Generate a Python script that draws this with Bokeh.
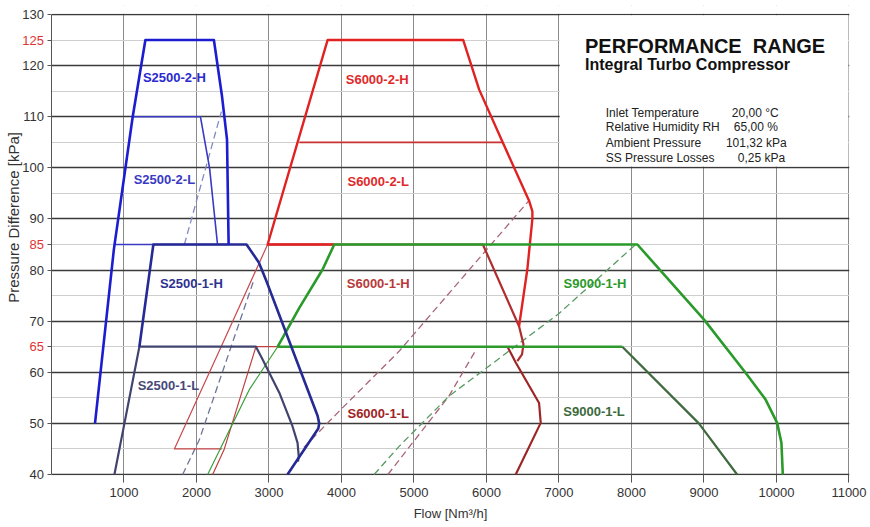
from bokeh.plotting import figure
from bokeh.layouts import row
from bokeh.models import FixedTicker, Label, Range1d
from bokeh.embed import file_html
from bokeh.resources import INLINE
from bokeh.core.properties import value
import math

# ---------------- data ----------------
flow_ticks = [1000, 2000, 3000, 4000, 5000, 6000, 7000, 8000, 9000, 10000, 11000]
flow_grid = [0, 1000, 2000, 3000, 4000, 5000, 6000, 7000, 8000, 9000, 10000, 11000]
dp_ticks = [40, 50, 60, 65, 70, 80, 85, 90, 100, 110, 120, 125, 130]
red_ticks = [65, 85, 125]
dp_major_grid = [40, 50, 60, 70, 80, 90, 100, 110, 120, 130]
dp_minor_grid = [45, 55, 65, 75, 85, 95, 105, 115, 125]

# S2500 family
s2500_2h_x = [600, 860, 1120, 1295, 2240, 2352, 2421, 2443]
s2500_2h_y = [50, 84, 110, 125, 125, 114, 105.5, 85]
s2500_2_base_x = [860, 2443]
s2500_2_base_y = [85, 85]
s2500_2l_x = [1120, 2054, 2180, 2290]
s2500_2l_y = [110, 110, 100, 85]
s2500_1h_x = [1212, 1405, 2690, 2860, 2960, 3670, 3693, 3680, 3255]
s2500_1h_y = [65, 85, 85, 81.5, 78, 51.5, 50, 49, 40]
s2500_1l_x = [868, 1006, 1212, 2820, 2912, 3142, 3325, 3394, 3410, 3400]
s2500_1l_y = [40, 50, 65, 65, 62.5, 56, 49.4, 46.2, 43.6, 42.5]
s2500_2_surge_x = [1833, 2343]
s2500_2_surge_y = [85, 111]
s2500_1_surge_x = [1809, 2039, 2636, 2790]
s2500_1_surge_y = [40, 46.8, 71.6, 78]

# S6000 family
s6000_1h_left_x = [2350, 1695, 2340, 2981]
s6000_1h_left_y = [45, 45, 65, 85]
s6000_1h_x = [2981, 5950, 6449, 6510, 6490, 6425]
s6000_1h_y = [85, 85, 69, 65.5, 63.5, 62.2]
s6000_1l_left_x = [2223, 2384, 2820, 6290]
s6000_1l_left_y = [40, 45, 65, 65]
s6000_1l_x = [6290, 6403, 6725, 6748, 6403]
s6000_1l_y = [65, 61.9, 54, 50.1, 40]
s6000_2h_x = [3900, 2981, 3808, 5679, 5899, 6217, 6589, 6633, 6633, 6563, 6449]
s6000_2h_y = [85, 85, 125, 125, 115.3, 105.2, 93.5, 91.5, 90, 80.1, 69]
s6000_2l_x = [3418, 6217]
s6000_2l_y = [105, 105]
s6000_surge_a_x = [3480, 3969, 4794, 5990, 6580]
s6000_surge_a_y = [45.3, 52.4, 64.1, 83.8, 93.5]
s6000_surge_b_x = [4640, 5480, 5860]
s6000_surge_b_y = [40, 55.3, 64.5]

# S9000 family
s9000_1l_left_x = [2154, 2728, 3120]
s9000_1l_left_y = [40, 56.6, 65]
s9000_1l_top_x = [3120, 7873]
s9000_1l_top_y = [65, 65]
s9000_1l_x = [7873, 8929, 9457]
s9000_1l_y = [65, 50, 40]
s9000_1h_x = [3120, 3418, 3739, 3900, 8081, 9001, 9573, 9848, 10009, 10068, 10087]
s9000_1h_y = [65, 72.6, 80.1, 85, 85, 70.3, 59.9, 54.7, 50.1, 46.2, 40]
s9000_surge_x = [4450, 4794, 5480, 7000, 8081]
s9000_surge_y = [40, 45.5, 55.3, 71.5, 85.3]

# curve labels
label_names = ["S2500-2-H", "S2500-2-L", "S2500-1-H", "S2500-1-L",
               "S6000-2-H", "S6000-2-L", "S6000-1-H", "S6000-1-L",
               "S9000-1-H", "S9000-1-L"]
label_x = [1695, 1557, 1929, 1612, 4492, 4506, 4506, 4506, 7496, 7483]
label_y = [117.7, 97.7, 77.4, 57.4, 117.2, 97.4, 77.4, 51.9, 77.4, 52.3]
label_colors = ["#2a2ad0", "#3a3ac4", "#2e3290", "#474a78",
                "#e02a2a", "#e02a2a", "#b83a3a", "#a02424",
                "#2a9a2a", "#3c6a3c"]

title_text = "PERFORMANCE\u00a0 RANGE"
subtitle_text = "Integral Turbo Compressor"
info_names = ["Inlet Temperature", "Relative Humidity RH", "Ambient Pressure", "SS Pressure Losses"]
info_values = ["20,00 °C", "65,00 %", "101,32 kPa", "0,25 kPa"]

FONT = "Liberation Sans"
X_MIN, X_MAX = 0, 11000
Y_MIN, Y_MAX = 40, 130
PX_PER_KPA = 460 / 90.0
PAD_TOP, PAD_BOT = 9, 8                      # frame padding (px) so edge tick labels are not clipped
Y_LO = Y_MIN - PAD_BOT / PX_PER_KPA
Y_HI = Y_MAX + PAD_TOP / PX_PER_KPA
FRAME_H = 460 + PAD_TOP + PAD_BOT

# ---------------- main figure ----------------
p = figure(frame_width=798, frame_height=FRAME_H,
           x_range=Range1d(X_MIN, X_MAX + 7), y_range=Range1d(Y_LO, Y_HI),
           output_backend="svg", toolbar_location=None,
           min_border_left=7, min_border_right=18, min_border_top=5, min_border_bottom=0)
p.background_fill_color = "white"
p.border_fill_color = "white"
p.outline_line_color = None

p.xaxis.ticker = FixedTicker(ticks=flow_ticks)
p.xaxis.bounds = (X_MIN, X_MAX)
p.yaxis.ticker = FixedTicker(ticks=dp_ticks)
p.yaxis.bounds = (Y_MIN, Y_MAX)
p.yaxis.major_label_overrides = {t: "" for t in dp_ticks}
p.yaxis.major_label_standoff = 0

p.xgrid.ticker = FixedTicker(ticks=flow_grid)
p.xgrid.grid_line_color = "#8a8a8a"
p.xgrid.grid_line_width = 1
p.ygrid.ticker = FixedTicker(ticks=dp_major_grid, minor_ticks=dp_minor_grid)
p.ygrid.grid_line_color = "#3a3a3a"
p.ygrid.grid_line_width = 1.4
p.ygrid.minor_grid_line_color = "#cfcfcf"
p.ygrid.minor_grid_line_width = 1

for ax in (p.xaxis, p.yaxis):
    ax.axis_line_color = "#555555"
    ax.major_tick_line_color = "#555555"
    ax.minor_tick_line_color = None
    ax.major_label_text_font = FONT
    ax.major_label_text_font_size = "13px"
    ax.major_label_text_color = "#333333"
p.yaxis.major_tick_out = 4
p.yaxis.major_tick_in = 0
# x axis sits PAD_BOT px below the 40 line: hide its line, ticks reach up to the 40 line
p.xaxis.axis_line_color = None
p.xaxis.major_tick_out = 0
p.xaxis.major_tick_in = PAD_BOT
p.xaxis.major_label_standoff = 5
p.xaxis.axis_label = "Flow [Nm³/h]"
p.xaxis.axis_label_text_font = FONT
p.xaxis.axis_label_text_font_size = "13px"
p.xaxis.axis_label_text_font_style = "normal"
p.xaxis.axis_label_text_color = "#333333"
p.xaxis.axis_label_standoff = 6

# white masks: keep the vertical grid inside 40..130, and the info box clear
p.quad(left=[X_MIN], right=[X_MAX + 7], bottom=[Y_MAX + 0.15], top=[Y_HI], fill_color="white", line_color=None)
p.quad(left=[X_MIN], right=[X_MAX + 7], bottom=[Y_LO], top=[Y_MIN - 0.15], fill_color="white", line_color=None)
p.quad(left=[7010], right=[X_MAX - 8], bottom=[100.25], top=[Y_MAX - 0.15], fill_color="white", line_color=None)

# ---------------- curves ----------------
def ln(x, y, color, width, dash="solid"):
    p.line(x, y, line_color=color, line_width=width, line_dash=dash, line_join="round")

DASH = "7 4"
ln(s2500_2_surge_x, s2500_2_surge_y, "#8288c8", 1.3, DASH)
ln(s2500_1_surge_x, s2500_1_surge_y, "#6e7498", 1.3, DASH)
ln(s6000_surge_a_x, s6000_surge_a_y, "#a86676", 1.3, DASH)
ln(s6000_surge_b_x, s6000_surge_b_y, "#a86676", 1.3, DASH)
ln(s9000_surge_x, s9000_surge_y, "#5a9a62", 1.3, DASH)
ln(s6000_1h_left_x, s6000_1h_left_y, "#c8484c", 1.2)
ln(s6000_1l_left_x, s6000_1l_left_y, "#c04040", 1.2)
ln(s9000_1l_left_x, s9000_1l_left_y, "#3a9e3a", 1.2)
ln(s2500_2_base_x, s2500_2_base_y, "#3a3ac4", 1.3)

ln(s6000_2l_x, s6000_2l_y, "#c83232", 1.8)
ln(s6000_1h_x, s6000_1h_y, "#b02e2e", 2.2)
ln(s6000_1l_x, s6000_1l_y, "#9e2626", 2.2)
ln(s6000_2h_x, s6000_2h_y, "#e02222", 2.4)

ln(s9000_1l_top_x, s9000_1l_top_y, "#2e9a2e", 2.4)
ln(s9000_1l_x, s9000_1l_y, "#3e6a3e", 2.2)
ln(s9000_1h_x, s9000_1h_y, "#2a9a2a", 2.6)

ln(s2500_1l_x, s2500_1l_y, "#41446e", 2.2)
ln(s2500_2l_x, s2500_2l_y, "#3a3ac4", 1.6)
ln(s2500_1h_x, s2500_1h_y, "#262a94", 2.6)
ln(s2500_2h_x, s2500_2h_y, "#1c1cd0", 2.6)

# ---------------- texts ----------------
for name, x, y, c in zip(label_names, label_x, label_y, label_colors):
    p.add_layout(Label(x=x, y=y, text=name, text_color=c, text_font=FONT,
                       text_font_size="13px", text_font_style="bold",
                       text_align="center", text_baseline="middle"))

p.add_layout(Label(x=7359, y=123.8, text=title_text, text_color="#111111", text_font=FONT,
                   text_font_size="20px", text_font_style="bold", text_baseline="alphabetic"))
p.add_layout(Label(x=7359, y=120.2, text=subtitle_text, text_color="#111111", text_font=FONT,
                   text_font_size="16px", text_font_style="bold", text_baseline="alphabetic"))

info_y = [110.8, 107.9, 104.95, 102.0]
value_x = [9384, 9412, 9302, 9467]
for nm, val, y, vx in zip(info_names, info_values, info_y, value_x):
    p.add_layout(Label(x=7645, y=y, text=nm, text_color="#222222", text_font=FONT,
                       text_font_size="12px", text_baseline="alphabetic"))
    p.add_layout(Label(x=vx, y=y, text=val, text_color="#222222", text_font=FONT,
                       text_font_size="12px", text_baseline="alphabetic"))

# ---------------- left strip: y tick labels (some red) and y title ----------------
strip_w = 44
yl = figure(frame_width=strip_w, frame_height=FRAME_H,
            x_range=Range1d(0, strip_w), y_range=p.y_range,
            x_axis_location=None, y_axis_location=None,
            output_backend="svg", toolbar_location=None,
            min_border_left=0, min_border_right=0, min_border_top=5, min_border_bottom=0)
yl.outline_line_color = None
yl.xgrid.grid_line_color = None
yl.ygrid.grid_line_color = None
yl.background_fill_color = "white"
yl.border_fill_color = "white"

tick_text = [str(t) for t in dp_ticks]
tick_color = ["#e03434" if t in red_ticks else "#333333" for t in dp_ticks]
yl.text(x=[strip_w - 0.5] * len(dp_ticks), y=dp_ticks, text=tick_text, text_color=tick_color,
        text_font=value(FONT), text_font_size="13px", text_align="right", text_baseline="middle")
yl.text(x=[13], y=[90.3], text=["Pressure Difference [kPa]"], angle=math.pi / 2,
        text_color="#333333", text_font=value(FONT), text_font_size="15px",
        text_align="center", text_baseline="middle")

layout = row(yl, p)
open("out.html", "w").write(file_html(layout, INLINE))
